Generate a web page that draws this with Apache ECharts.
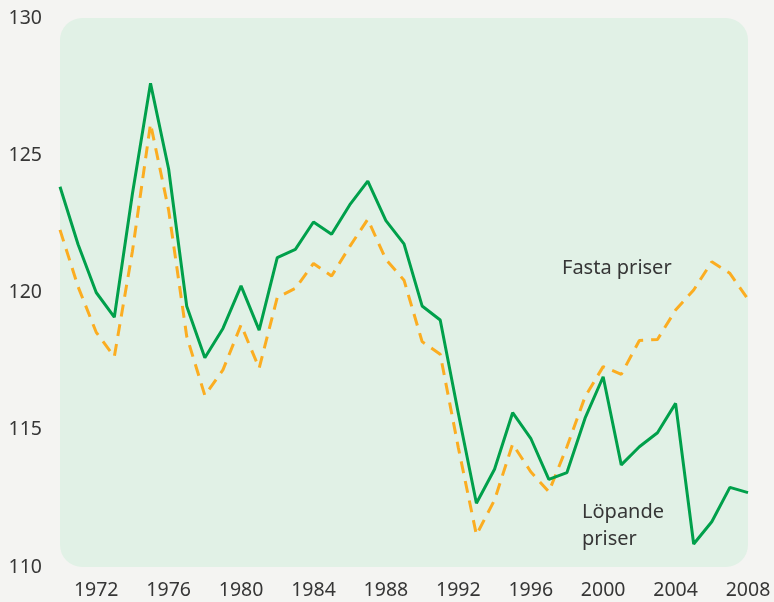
<!DOCTYPE html>
<html>
<head>
<meta charset="utf-8">
<script src="https://cdn.jsdelivr.net/npm/echarts@6/dist/echarts.min.js"></script>
<style>
html,body{margin:0;padding:0;background:#f4f4f2;}
#chart{width:774px;height:602px;}
</style>
</head>
<body>
<div id="chart"></div>
<script>
const years = [];
for (let y = 1970; y <= 2008; y++) years.push(String(y));

const lopandePriser = [123.85, 121.75, 120.0, 119.1, 123.6, 127.62, 124.5, 119.5, 117.62, 118.69,
  120.24, 118.63, 121.27, 121.57, 122.57, 122.12, 123.19, 124.06, 122.62, 121.77,
  119.51, 119.0, 115.6, 112.32, 113.56, 115.62, 114.69, 113.19, 113.44, 115.42,
  116.93, 113.72, 114.38, 114.89, 115.96, 110.84, 111.65, 112.9, 112.71];

const fastaPriser = [122.28, 120.21, 118.55, 117.66, 121.5, 126.15, 123.0, 118.4, 116.25, 117.18,
  118.82, 117.24, 119.82, 120.15, 121.06, 120.6, 121.67, 122.67, 121.2, 120.45,
  118.21, 117.75, 114.35, 111.17, 112.44, 114.48, 113.47, 112.74, 114.38, 116.2,
  117.3, 117.02, 118.25, 118.29, 119.36, 120.09, 121.12, 120.7, 119.75];

const yTicks = { min: 110, max: 130, interval: 5 };
const xLabelYears = ['1972','1976','1980','1984','1988','1992','1996','2000','2004','2008'];

const chart = echarts.init(document.getElementById('chart'));
const txt = '#363636';
const font = 'Noto Sans';
chart.setOption({
  backgroundColor: '#f4f4f2',
  animation: false,
  grid: { left: 60, right: 26, top: 18, bottom: 35, containLabel: false },
  graphic: [
    { type: 'rect', z: -10, silent: true,
      shape: { x: 60, y: 18, width: 688, height: 549, r: 22 },
      style: { fill: '#e1f1e6' } },
    { type: 'text', left: 562, top: 258, z: 10,
      style: { text: 'Fasta priser', fill: txt, font: '20px "Noto Sans"' } },
    { type: 'text', left: 582, top: 499, z: 10,
      style: { text: 'Löpande\npriser', fill: txt, font: '20px "Noto Sans"', lineHeight: 27 } }
  ],
  xAxis: {
    type: 'category', data: years, boundaryGap: false,
    axisLine: { show: false }, axisTick: { show: false }, splitLine: { show: false },
    axisLabel: {
      color: txt, fontSize: 19.5, fontFamily: font, margin: 13,
      interval: (i, v) => xLabelYears.includes(v)
    }
  },
  yAxis: {
    type: 'value', min: yTicks.min, max: yTicks.max, interval: yTicks.interval,
    axisLine: { show: false }, axisTick: { show: false }, splitLine: { show: false },
    axisLabel: { color: txt, fontSize: 19.5, fontFamily: font, margin: 18 }
  },
  series: [
    { name: 'Fasta priser', type: 'line', data: fastaPriser, symbol: 'none',
      lineStyle: { color: '#fbad21', width: 3, type: [12, 8] } },
    { name: 'Löpande priser', type: 'line', data: lopandePriser, symbol: 'none',
      lineStyle: { color: '#00a04b', width: 3 } }
  ]
});
</script>
</body>
</html>
